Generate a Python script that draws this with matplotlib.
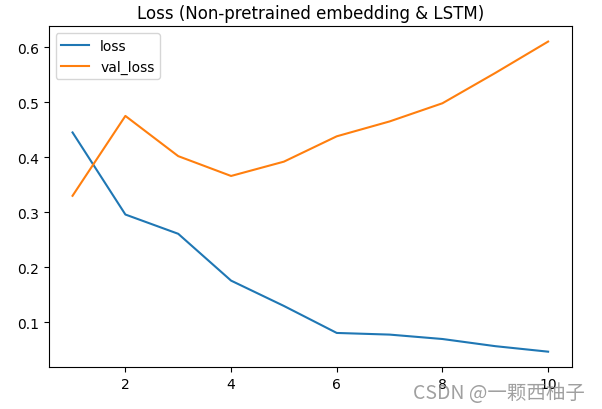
import matplotlib.pyplot as plt

epochs = [1, 2, 3, 4, 5, 6, 7, 8, 9, 10]
loss = [0.445, 0.296, 0.261, 0.176, 0.130, 0.081, 0.078, 0.070, 0.057, 0.047]
val_loss = [0.330, 0.475, 0.402, 0.366, 0.392, 0.438, 0.465, 0.498, 0.553, 0.610]

fig = plt.figure(figsize=(6.02, 4.10), dpi=100)
ax = fig.add_axes([0.081, 0.102, 0.869, 0.832])
ax.plot(epochs, loss, label='loss')
ax.plot(epochs, val_loss, label='val_loss')
ax.set_title('Loss (Non-pretrained embedding & LSTM)')
ax.set_xticks([2, 4, 6, 8, 10])
ax.legend(loc='upper left')

# watermark
fig.text(0.972, 0.015, 'CSDN @一颗西柚子', ha='right', va='bottom', fontsize=14,
         color='#888888', alpha=0.8, family=['Noto Sans CJK SC', 'DejaVu Sans'])

fig.savefig('out.png', dpi=100)
